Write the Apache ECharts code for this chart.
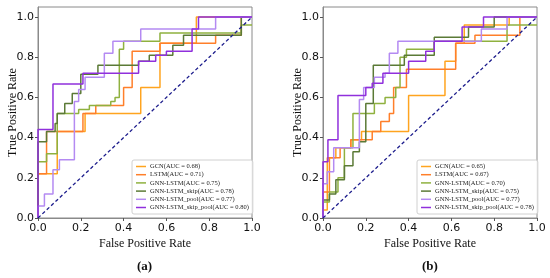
<!DOCTYPE html>
<html><head><meta charset="utf-8">
<script src="https://cdn.jsdelivr.net/npm/echarts@6/dist/echarts.min.js"></script>
<style>html,body{margin:0;padding:0;background:#fff}#c{width:550px;height:278px}</style>
</head><body><div id="c"></div>
<script>
const namesA = ['GCN(AUC = 0.68)','LSTM(AUC = 0.71)','GNN-LSTM(AUC = 0.75)','GNN-LSTM_skip(AUC = 0.78)','GNN-LSTM_pool(AUC = 0.77)','GNN-LSTM_skip_pool(AUC = 0.80)'];
const namesB = ['GCN(AUC = 0.65)','LSTM(AUC = 0.67)','GNN-LSTM(AUC = 0.70)','GNN-LSTM_skip(AUC = 0.75)','GNN-LSTM_pool(AUC = 0.77)','GNN-LSTM_skip_pool(AUC = 0.78)'];
const tickValues = [0, 0.2, 0.4, 0.6, 0.8, 1.0];

// (a)
const fprA_gcn = [0,0,0.09,0.09,0.22,0.22,0.48,0.48,0.57,0.57,0.74,0.74,1.0];
const tprA_gcn = [0,0.22,0.22,0.43,0.43,0.52,0.52,0.65,0.65,0.87,0.87,1.0,1.0];
const fprA_lstm = [0,0,0.04,0.04,0.21,0.21,0.27,0.27,0.40,0.40,0.44,0.44,0.57,0.57,0.83,0.83,0.95,0.95,1.0];
const tprA_lstm = [0,0.22,0.22,0.43,0.43,0.52,0.52,0.56,0.56,0.65,0.65,0.83,0.83,0.87,0.87,0.91,0.91,1.0,1.0];
const fprA_gnn = [0,0,0.04,0.04,0.09,0.09,0.19,0.19,0.24,0.24,0.34,0.34,0.36,0.36,0.38,0.38,0.40,0.40,0.57,0.57,0.95,0.95,1.0];
const tprA_gnn = [0,0.28,0.28,0.32,0.32,0.52,0.52,0.54,0.54,0.56,0.56,0.58,0.58,0.60,0.60,0.84,0.84,0.88,0.88,0.92,0.92,0.96,0.96];
const fprA_skip = [0,0,0.04,0.04,0.08,0.08,0.09,0.09,0.125,0.125,0.16,0.16,0.2,0.2,0.28,0.28,0.47,0.47,0.52,0.52,0.63,0.63,0.68,0.68,0.95,0.95,1.0];
const tprA_skip = [0,0.38,0.38,0.43,0.43,0.47,0.47,0.52,0.52,0.57,0.57,0.62,0.62,0.715,0.715,0.76,0.76,0.78,0.78,0.81,0.81,0.86,0.86,0.91,0.91,1.0,1.0];
const fprA_pool = [0,0,0.03,0.03,0.07,0.07,0.1,0.1,0.17,0.17,0.19,0.19,0.22,0.22,0.31,0.31,0.35,0.35,0.48,0.48,0.83,0.83,1.0];
const tprA_pool = [0,0.06,0.06,0.12,0.12,0.24,0.24,0.29,0.29,0.58,0.58,0.64,0.64,0.70,0.70,0.82,0.82,0.88,0.88,0.94,0.94,1.0,1.0];
const fprA_sp = [0,0,0.07,0.07,0.21,0.21,0.47,0.47,0.55,0.55,0.60,0.60,0.72,0.72,0.75,0.75,1.0];
const tprA_sp = [0,0.44,0.44,0.667,0.667,0.72,0.72,0.78,0.78,0.81,0.81,0.83,0.83,0.94,0.94,1.0,1.0];

// (b)
const fprB_gcn = [0,0,0.02,0.02,0.06,0.06,0.13,0.13,0.18,0.18,0.40,0.40,0.57,0.57,0.62,0.62,0.66,0.66,0.87,0.87,1.0];
const tprB_gcn = [0,0.04,0.04,0.30,0.30,0.35,0.35,0.39,0.39,0.43,0.43,0.61,0.61,0.78,0.78,0.87,0.87,0.96,0.96,1.0,1.0];
const fprB_lstm = [0,0,0.03,0.03,0.08,0.08,0.13,0.13,0.23,0.23,0.27,0.27,0.31,0.31,0.33,0.33,0.39,0.39,0.62,0.62,0.71,0.71,0.92,0.92,1.0];
const tprB_lstm = [0,0.13,0.13,0.30,0.30,0.35,0.35,0.39,0.39,0.43,0.43,0.48,0.48,0.52,0.52,0.65,0.65,0.74,0.74,0.87,0.87,0.91,0.91,1.0,1.0];
const fprB_gnn = [0,0,0.03,0.03,0.07,0.07,0.10,0.10,0.14,0.14,0.24,0.24,0.29,0.29,0.34,0.34,0.36,0.36,0.39,0.39,0.52,0.52,0.86,0.86,1.0];
const tprB_gnn = [0,0.08,0.08,0.13,0.13,0.20,0.20,0.35,0.35,0.52,0.52,0.57,0.57,0.60,0.60,0.65,0.65,0.80,0.80,0.84,0.84,0.88,0.88,0.96,0.96];
const fprB_skip = [0,0,0.03,0.03,0.06,0.06,0.10,0.10,0.14,0.14,0.17,0.17,0.20,0.20,0.235,0.235,0.38,0.38,0.52,0.52,0.68,0.68,0.80,0.80,1.0];
const tprB_skip = [0,0.09,0.09,0.12,0.12,0.19,0.19,0.26,0.26,0.33,0.33,0.38,0.38,0.57,0.57,0.76,0.76,0.81,0.81,0.90,0.90,0.95,0.95,1.0,1.0];
const fprB_pool = [0,0,0.02,0.02,0.05,0.05,0.17,0.17,0.19,0.19,0.24,0.24,0.29,0.29,0.31,0.31,0.35,0.35,0.74,0.74,0.86,0.86,1.0];
const tprB_pool = [0,0.17,0.17,0.23,0.23,0.35,0.35,0.59,0.59,0.65,0.65,0.70,0.70,0.72,0.72,0.82,0.82,0.88,0.88,0.94,0.94,1.0,1.0];
const fprB_sp = [0,0,0.023,0.023,0.07,0.07,0.20,0.20,0.23,0.23,0.28,0.28,0.40,0.40,0.48,0.48,0.52,0.52,0.65,0.65,0.75,0.75,1.0];
const tprB_sp = [0,0.28,0.28,0.39,0.39,0.61,0.61,0.65,0.65,0.67,0.67,0.72,0.72,0.78,0.78,0.83,0.83,0.88,0.88,0.95,0.95,1.0,1.0];

const diagX = [0, 1];
const diagY = [0, 1];

const colors = ['#FFA41F','#FF7F2A','#8FB13F','#5B7A36','#B48AF2','#9030DC'];

const panelA = [[fprA_gcn,tprA_gcn],[fprA_lstm,tprA_lstm],[fprA_gnn,tprA_gnn],[fprA_skip,tprA_skip],[fprA_pool,tprA_pool],[fprA_sp,tprA_sp]];
const panelB = [[fprB_gcn,tprB_gcn],[fprB_lstm,tprB_lstm],[fprB_gnn,tprB_gnn],[fprB_skip,tprB_skip],[fprB_pool,tprB_pool],[fprB_sp,tprB_sp]];

function zip(xs, ys){ return xs.map((x,i)=>[x, ys[i]]); }

const serif = 'Liberation Serif';
const series = [];
[panelA, panelB].forEach((panel, p) => {
  const names = p === 0 ? namesA : namesB;
  panel.forEach((d, i) => {
    series.push({
      type: 'line', name: names[i], xAxisIndex: p, yAxisIndex: p,
      data: zip(d[0], d[1]), showSymbol: false, symbol: 'none',
      lineStyle: { color: colors[i], width: 1.5 }, itemStyle: { color: colors[i] },
      animation: false, z: 2 + i
    });
  });
  series.push({
    type: 'line', name: 'diag' + p, xAxisIndex: p, yAxisIndex: p,
    data: zip(diagX, diagY), showSymbol: false, symbol: 'none',
    lineStyle: { color: '#1c1c8c', width: 1.3, type: [3.5, 2.5] }, animation: false, z: 20
  });
});

function xAx(i){
  return { type: 'value', gridIndex: i, min: 0, max: 1, interval: 0.2,
    name: 'False Positive Rate', nameLocation: 'middle', nameGap: 20, nameMoveOverlap: false,
    nameTextStyle: { fontFamily: serif, fontSize: 12, color: '#111' },
    axisLine: { show: true, lineStyle: { color: '#8a8a8a', width: 1 } },
    axisTick: { show: true, length: 3, lineStyle: { color: '#555' } },
    axisLabel: { fontFamily: 'DejaVu Sans', fontSize: 11, color: '#111', margin: 5, formatter: v => v.toFixed(1) },
    splitLine: { show: false } };
}
function yAx(i){
  return { type: 'value', gridIndex: i, min: 0, max: 1.05,
    name: 'True Positive Rate', nameLocation: 'middle', nameGap: 19, nameMoveOverlap: false,
    nameTextStyle: { fontFamily: serif, fontSize: 12, color: '#111' },
    axisLine: { show: true, lineStyle: { color: '#8a8a8a', width: 1 } },
    axisTick: { show: true, length: 3, customValues: tickValues, lineStyle: { color: '#555' } },
    axisLabel: { fontFamily: 'DejaVu Sans', fontSize: 11, color: '#111', margin: 4, customValues: tickValues, formatter: v => v.toFixed(1) },
    splitLine: { show: false } };
}
function leg(names, left){
  return { data: names, orient: 'vertical', left: left, top: 160, width: 120,
    icon: 'rect', itemWidth: 10, itemHeight: 1.5, itemGap: 1.2,
    padding: [3, 4, 3, 4], borderColor: '#d0d0d0', borderWidth: 1, borderRadius: 2,
    backgroundColor: 'rgba(255,255,255,0.85)', selectedMode: false,
    textStyle: { fontFamily: serif, fontSize: 6.5, color: '#222', padding: [0,0,0,-1] } };
}

const chart = echarts.init(document.getElementById('c'), null, { renderer: 'canvas' });
chart.setOption({
  animation: false,
  backgroundColor: '#fff',
  grid: [
    { left: 38, top: 7, width: 214, height: 211, show: true, borderColor: '#8a8a8a', borderWidth: 1 },
    { left: 323, top: 7, width: 214, height: 211, show: true, borderColor: '#8a8a8a', borderWidth: 1 }
  ],
  xAxis: [xAx(0), xAx(1)],
  yAxis: [yAx(0), yAx(1)],
  legend: [leg(namesA, 132), leg(namesB, 417)],
  graphic: [
    { type: 'text', left: 137, top: 260, style: { text: '(a)', font: 'bold 13px "Liberation Serif"', fill: '#111' } },
    { type: 'text', left: 422, top: 260, style: { text: '(b)', font: 'bold 13px "Liberation Serif"', fill: '#111' } }
  ],
  series: series
});
</script></body></html>
